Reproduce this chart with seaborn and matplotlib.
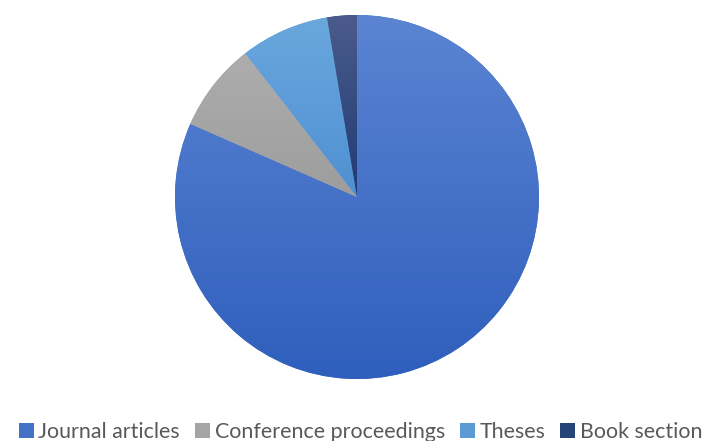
import numpy as np
import matplotlib
matplotlib.use("Agg")
import matplotlib.pyplot as plt
import seaborn as sns
from matplotlib.colors import LinearSegmentedColormap
from matplotlib.patches import Patch

categories = ["Journal articles", "Conference proceedings", "Theses", "Book section"]
counts = [31, 3, 3, 1]
base_colors = ["#4472C4", "#A5A5A5", "#5B9BD5", "#264478"]
top_colors = ["#5B84D2", "#ADADAD", "#6AA7DD", "#4B5B8B"]
bottom_colors = ["#2F5FBD", "#9D9D9D", "#4F90D3", "#1F3B75"]

sns.set_theme(style="white")
plt.rcParams["font.family"] = ["Lato", "DejaVu Sans"]

fig = plt.figure(figsize=(7.10, 4.41), dpi=100)
ax = fig.add_axes([(357 - 182) / 710, (441 - 197 - 182) / 441, 364 / 710, 364 / 441])

wedges, _ = ax.pie(counts, colors=base_colors, startangle=90, counterclock=False,
                   radius=1, wedgeprops=dict(linewidth=0))
ax.set_xlim(-1, 1)
ax.set_ylim(-1, 1)
ax.set_aspect("equal")
ax.axis("off")

grad = np.linspace(0, 1, 256).reshape(-1, 1)
for w, ct, cb in zip(wedges, top_colors, bottom_colors):
    ext = w.get_path().get_extents()
    cmap = LinearSegmentedColormap.from_list("g", [ct, cb])
    im = ax.imshow(grad, cmap=cmap, aspect="auto", origin="upper",
                   extent=(ext.x0, ext.x1, ext.y0, ext.y1), zorder=2,
                   interpolation="bilinear")
    im.set_clip_path(w)
ax.set_xlim(-1, 1)
ax.set_ylim(-1, 1)

handles = [Patch(facecolor=c, edgecolor="none") for c in base_colors]
leg = fig.legend(handles, categories, loc="lower center", ncol=4,
                 bbox_to_anchor=(0.508, -0.045), frameon=False, fontsize=15.4,
                 handlelength=0.7, handleheight=0.7, handletextpad=0.22,
                 columnspacing=0.7, labelcolor="#595959")

fig.savefig("out.png", dpi=100)
